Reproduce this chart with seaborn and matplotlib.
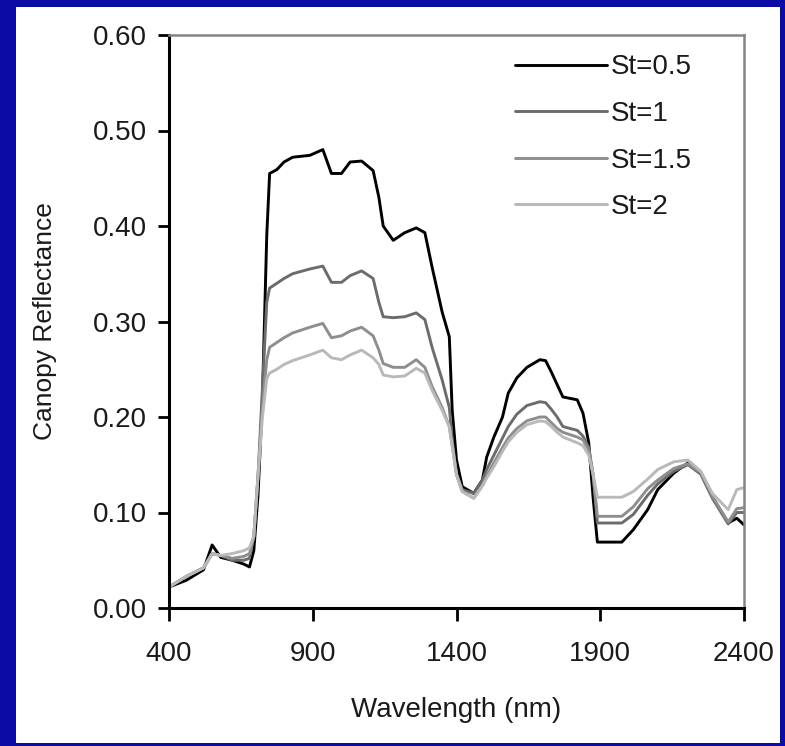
import numpy as np
import pandas as pd
import matplotlib
matplotlib.use("Agg")
import matplotlib.pyplot as plt
from matplotlib.patches import Rectangle
import seaborn as sns

# ------------------ DATA ------------------
wavelength = [400, 460, 520, 550, 580, 620, 660, 680, 695, 710, 725, 740, 750,
              775, 800, 830, 890, 935, 965, 1000, 1030, 1070, 1110, 1130, 1145,
              1180, 1220, 1260, 1290, 1315, 1350, 1375, 1385, 1400, 1420, 1460,
              1490, 1505, 1530, 1560, 1580, 1610, 1645, 1690, 1710, 1730, 1750,
              1770, 1820, 1840, 1860, 1875, 1890, 1975, 2015, 2065, 2100, 2155,
              2205, 2250, 2290, 2345, 2375, 2400]

st_05 = [0.022, 0.029, 0.040, 0.066, 0.053, 0.050, 0.046, 0.043, 0.060, 0.120,
         0.220, 0.390, 0.455, 0.459, 0.467, 0.472, 0.474, 0.480, 0.455, 0.455,
         0.467, 0.468, 0.458, 0.430, 0.400, 0.385, 0.393, 0.398, 0.393, 0.357,
         0.310, 0.284, 0.207, 0.155, 0.127, 0.120, 0.134, 0.158, 0.179, 0.200,
         0.225, 0.241, 0.252, 0.260, 0.259, 0.247, 0.234, 0.221, 0.218, 0.204,
         0.173, 0.116, 0.069, 0.069, 0.082, 0.103, 0.124, 0.141, 0.152, 0.141,
         0.116, 0.089, 0.094, 0.087]

st_1 = [0.022, 0.033, 0.042, 0.057, 0.055, 0.050, 0.050, 0.052, 0.075, 0.140,
        0.230, 0.320, 0.335, 0.340, 0.345, 0.350, 0.355, 0.358, 0.341, 0.341,
        0.348, 0.353, 0.345, 0.320, 0.305, 0.304, 0.305, 0.309, 0.302, 0.273,
        0.239, 0.210, 0.176, 0.140, 0.124, 0.120, 0.134, 0.145, 0.160, 0.178,
        0.190, 0.203, 0.212, 0.216, 0.215, 0.208, 0.200, 0.190, 0.186, 0.180,
        0.168, 0.140, 0.089, 0.089, 0.098, 0.118, 0.130, 0.143, 0.150, 0.140,
        0.115, 0.088, 0.100, 0.100]

st_15 = [0.022, 0.033, 0.042, 0.057, 0.055, 0.052, 0.054, 0.057, 0.075, 0.140,
         0.210, 0.260, 0.273, 0.278, 0.283, 0.288, 0.294, 0.298, 0.283, 0.285,
         0.290, 0.294, 0.285, 0.270, 0.256, 0.252, 0.252, 0.260, 0.252, 0.232,
         0.210, 0.190, 0.170, 0.140, 0.122, 0.115, 0.128, 0.138, 0.152, 0.168,
         0.178, 0.188, 0.196, 0.200, 0.200, 0.194, 0.188, 0.184, 0.179, 0.176,
         0.165, 0.140, 0.096, 0.096, 0.106, 0.125, 0.134, 0.146, 0.151, 0.142,
         0.117, 0.090, 0.104, 0.105]

st_2 = [0.022, 0.033, 0.042, 0.057, 0.055, 0.057, 0.060, 0.063, 0.075, 0.140,
        0.200, 0.240, 0.246, 0.250, 0.255, 0.259, 0.265, 0.270, 0.262, 0.260,
        0.265, 0.270, 0.262, 0.255, 0.244, 0.242, 0.243, 0.251, 0.246, 0.228,
        0.207, 0.190, 0.170, 0.140, 0.122, 0.115, 0.128, 0.136, 0.148, 0.164,
        0.174, 0.184, 0.192, 0.196, 0.195, 0.190, 0.184, 0.179, 0.173, 0.170,
        0.160, 0.140, 0.116, 0.116, 0.122, 0.135, 0.145, 0.153, 0.155, 0.143,
        0.120, 0.103, 0.124, 0.126]

labels = ["St=0.5", "St=1", "St=1.5", "St=2"]
colors = {"St=0.5": "#000000", "St=1": "#6c6c6c", "St=1.5": "#8e8e8e", "St=2": "#b9b9b9"}

df = pd.concat([
    pd.DataFrame({"Wavelength": wavelength, "Reflectance": vals, "Series": lab})
    for lab, vals in zip(labels, [st_05, st_1, st_15, st_2])
], ignore_index=True)

# ------------------ PLOTTING ------------------
sns.set_style("white")
plt.rcParams["font.family"] = ["Liberation Sans", "DejaVu Sans"]
txt_color = "#1a1a1a"

fig = plt.figure(figsize=(7.85, 7.46), dpi=100)
fig.patch.set_facecolor("#0b0ba5")
W, H = 785, 746
# white slide panel inside the blue frame
fig.add_artist(Rectangle((16 / W, 3 / H), (780 - 16) / W, (739 - 3) / H,
                         transform=fig.transFigure, facecolor="white",
                         edgecolor="none", zorder=0))

ax = fig.add_axes([169 / W, 1 - 608 / H, (744 - 169) / W, (608 - 35) / H])
ax.set_facecolor("white")

sns.lineplot(data=df, x="Wavelength", y="Reflectance", hue="Series",
             hue_order=labels, palette=colors, sort=False, estimator=None,
             linewidth=2.1, ax=ax)

ax.set_xlim(400, 2400)
ax.set_ylim(0, 0.6)
ax.set_xticks([400, 900, 1400, 1900, 2400])
ax.set_yticks(np.arange(0, 0.61, 0.1))
ax.set_yticklabels([f"{v:.2f}" for v in np.arange(0, 0.61, 0.1)])

for side in ["left", "bottom"]:
    ax.spines[side].set_color("black")
    ax.spines[side].set_linewidth(2.2)
for side in ["top", "right"]:
    ax.spines[side].set_color("#858585")
    ax.spines[side].set_linewidth(1.8)

ax.tick_params(axis="both", which="major", labelsize=20, colors="black",
               labelcolor=txt_color, width=2.0, direction="out")
ax.tick_params(axis="x", length=9, pad=14.5, top=False, bottom=True)
ax.tick_params(axis="y", length=8, pad=8, left=True, right=False)

ax.set_xlabel("Wavelength (nm)", fontsize=20, color=txt_color, labelpad=22)
ax.set_ylabel("Canopy Reflectance", fontsize=19, color=txt_color, labelpad=26)

handles, labs = ax.get_legend_handles_labels()
for h in handles:
    h.set_linewidth(2.1)
ax.legend(handles, labs, loc="upper left", bbox_to_anchor=(0.602, 0.966),
          frameon=False, fontsize=20, handlelength=3.3, handletextpad=0.15,
          labelspacing=0.74, borderpad=0, borderaxespad=0,
          labelcolor=txt_color)

fig.savefig("out.png", dpi=100, facecolor=fig.get_facecolor())
